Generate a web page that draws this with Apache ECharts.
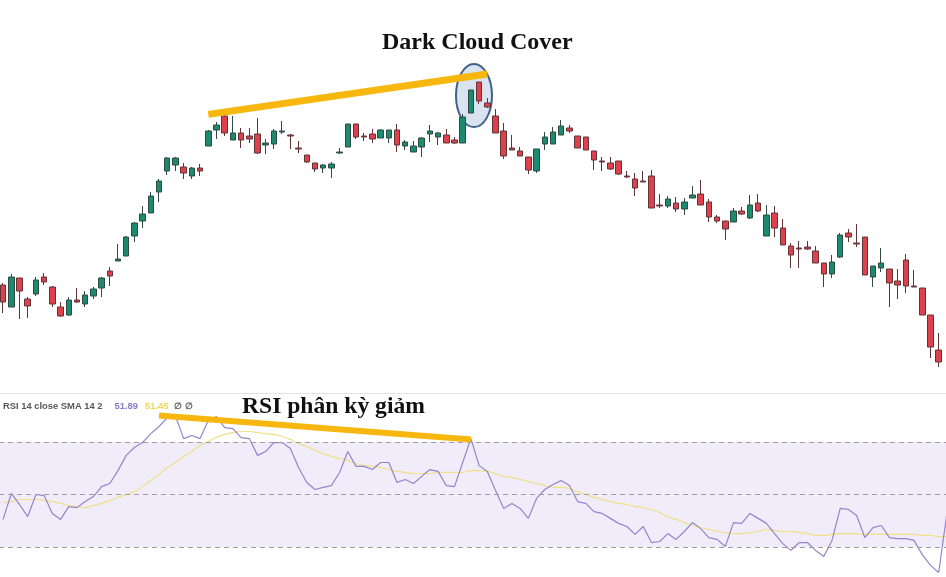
<!DOCTYPE html>
<html>
<head>
<meta charset="utf-8">
<script src="https://cdn.jsdelivr.net/npm/echarts@6/dist/echarts.min.js"></script>
<style>
  html, body { margin: 0; padding: 0; background: #ffffff; }
  #chart { width: 946px; height: 577px; }
</style>
</head>
<body>
<div id="chart"></div>
<script>
// Trading sessions on the shared time axis (the last one has only the indicator tail)
const sessions = Array.from({ length: 116 }, (_, i) => 'Phiên ' + (i + 1));

// Daily OHLC prices
const opens = [
  15.75, 14.65, 16.10, 15.05, 15.30, 16.15, 15.65, 14.65, 14.25, 15.00,
  14.80, 15.20, 15.60, 16.45, 16.95, 17.20, 18.20, 18.95, 19.35, 20.40,
  21.45, 21.75, 21.65, 21.20, 21.60, 22.70, 23.50, 24.20, 23.00, 23.35,
  23.20, 23.30, 22.75, 22.80, 23.40, 23.25, 22.60, 22.25, 21.85, 21.60,
  21.60, 22.35, 22.65, 23.80, 23.20, 23.30, 23.10, 23.10, 23.50, 22.70,
  22.40, 22.65, 23.30, 23.15, 23.25, 23.00, 22.85, 24.35, 25.90, 24.85,
  24.20, 23.45, 22.60, 22.45, 22.15, 21.45, 22.80, 22.80, 23.25, 23.60,
  23.20, 23.15, 22.45, 21.95, 21.85, 21.95, 21.20, 21.05, 20.95, 21.20,
  19.75, 19.70, 19.85, 19.55, 20.10, 20.30, 19.90, 19.15, 18.95, 18.90,
  19.45, 19.10, 19.85, 18.20, 19.35, 18.60, 17.70, 17.60, 17.65, 17.45,
  16.85, 16.30, 17.15, 18.35, 17.85, 18.15, 16.15, 16.60, 16.55, 15.95,
  17.00, 15.70, 15.60, 14.25, 12.50
];
const closes = [
  14.90, 16.15, 15.45, 14.70, 16.00, 15.90, 14.80, 14.20, 15.00, 14.90,
  15.25, 15.55, 16.10, 16.20, 17.05, 18.15, 18.85, 19.30, 20.20, 20.95,
  22.10, 22.10, 21.35, 21.60, 21.45, 23.45, 23.75, 23.35, 23.35, 23.00,
  23.05, 22.35, 22.85, 23.45, 23.45, 23.20, 22.55, 21.90, 21.55, 21.75,
  21.80, 22.40, 23.80, 23.15, 23.15, 23.05, 23.50, 23.50, 22.75, 22.90,
  22.70, 23.10, 23.45, 23.35, 22.85, 22.85, 24.15, 25.50, 24.95, 24.65,
  23.35, 22.20, 22.50, 22.20, 21.50, 22.55, 23.15, 23.40, 23.70, 23.45,
  22.60, 22.50, 22.00, 21.90, 21.55, 21.30, 21.15, 20.60, 20.90, 19.60,
  19.70, 20.05, 19.55, 19.90, 20.25, 19.75, 19.15, 18.95, 18.55, 19.45,
  19.30, 19.75, 19.45, 19.25, 18.60, 17.75, 17.25, 17.55, 17.55, 16.85,
  16.30, 16.90, 18.25, 18.15, 17.80, 16.25, 16.70, 16.85, 15.85, 15.75,
  15.70, 15.65, 14.25, 12.65, 11.90
];
const lows = [
  14.35, 14.65, 14.05, 14.10, 15.20, 15.75, 14.65, 14.15, 14.20, 14.85,
  14.65, 15.05, 15.15, 15.70, 16.95, 17.20, 17.90, 18.60, 19.35, 19.90,
  21.25, 21.45, 21.05, 21.05, 21.20, 22.70, 23.05, 23.20, 23.00, 22.60,
  22.85, 22.30, 22.30, 22.55, 23.30, 22.55, 22.35, 21.85, 21.40, 21.35,
  21.10, 22.30, 22.65, 23.05, 22.95, 22.85, 23.10, 22.85, 22.40, 22.50,
  22.40, 22.15, 22.90, 22.75, 22.85, 22.80, 22.85, 24.35, 24.80, 24.60,
  23.35, 22.05, 22.50, 22.20, 21.30, 21.35, 22.50, 22.80, 23.25, 23.35,
  22.60, 22.50, 21.50, 21.45, 21.50, 21.25, 21.10, 20.20, 20.90, 19.60,
  19.60, 19.60, 19.40, 19.25, 20.10, 19.75, 18.90, 18.85, 18.00, 18.90,
  19.25, 19.05, 19.40, 18.20, 18.15, 17.75, 16.60, 16.60, 17.50, 16.85,
  15.65, 16.10, 17.10, 17.90, 17.65, 16.25, 15.65, 16.40, 14.65, 15.05,
  15.35, 15.65, 14.25, 12.10, 11.65
];
const highs = [
  15.85, 16.30, 16.10, 15.15, 16.15, 16.35, 15.70, 14.90, 15.15, 15.60,
  15.45, 15.65, 16.15, 16.65, 17.80, 18.20, 18.90, 19.70, 20.40, 21.05,
  22.15, 22.15, 21.85, 21.65, 21.80, 23.50, 23.90, 24.30, 24.20, 23.60,
  23.60, 24.10, 23.05, 23.55, 23.95, 23.30, 22.95, 22.25, 21.85, 21.80,
  21.90, 22.60, 23.80, 23.80, 23.35, 23.55, 23.55, 23.50, 23.80, 23.00,
  22.95, 23.15, 23.75, 23.40, 23.55, 23.15, 24.30, 25.50, 25.90, 25.10,
  24.55, 23.85, 23.25, 22.65, 22.15, 22.55, 23.40, 23.65, 24.00, 23.75,
  23.20, 23.15, 22.45, 22.15, 22.15, 21.95, 21.45, 21.35, 21.45, 21.50,
  20.30, 20.20, 20.15, 20.10, 20.70, 21.00, 20.05, 19.25, 18.95, 19.60,
  19.65, 20.25, 20.30, 19.75, 19.70, 19.05, 17.85, 17.95, 17.95, 17.70,
  16.85, 17.25, 18.35, 18.55, 18.80, 18.15, 16.70, 17.60, 16.55, 16.55,
  17.30, 16.50, 15.60, 14.25, 13.35
];

// RSI(14, close) and its 14-period SMA
const rsi = [
  40.5, 50.4, 46.2, 41.6, 50.0, 49.6, 42.8, 40.5, 45.4, 45.0,
  47.3, 49.2, 53.0, 54.2, 59.1, 64.9, 67.9, 69.8, 73.2, 75.9,
  79.3, 80.0, 71.3, 72.5, 71.3, 78.2, 79.7, 75.5, 75.1, 71.7,
  71.3, 64.9, 66.4, 69.8, 69.8, 67.5, 60.3, 54.6, 51.9, 52.7,
  53.4, 58.4, 66.4, 60.7, 60.7, 59.5, 62.2, 62.2, 54.6, 55.7,
  54.2, 56.9, 59.5, 58.8, 53.4, 53.0, 62.2, 71.3, 61.0, 58.8,
  51.5, 44.7, 46.6, 44.7, 40.9, 48.5, 51.9, 53.8, 55.3, 53.4,
  47.3, 46.6, 43.5, 42.8, 40.9, 39.0, 37.8, 34.8, 37.8, 31.7,
  32.1, 35.1, 32.9, 35.9, 39.3, 37.0, 33.6, 32.9, 30.2, 39.3,
  39.0, 42.8, 40.9, 39.0, 35.1, 31.3, 28.7, 31.7, 31.7, 28.7,
  26.4, 32.5, 44.7, 44.3, 42.0, 33.6, 37.4, 38.2, 33.6, 33.2,
  33.2, 32.5, 27.1, 23.0, 20.3, 42.8
];
const rsiSma = [
  47.0, 47.3, 48.1, 48.1, 48.1, 47.7, 47.3, 46.6, 45.8, 45.4,
  45.0, 45.8, 46.6, 47.7, 48.9, 50.0, 51.1, 53.0, 55.3, 57.6,
  60.3, 62.2, 64.5, 66.4, 68.7, 70.2, 71.7, 72.9, 73.6, 74.0,
  74.0, 73.6, 73.2, 72.9, 72.1, 71.0, 69.4, 68.3, 66.8, 65.6,
  64.5, 63.7, 63.0, 61.8, 61.0, 60.7, 60.3, 59.5, 58.8, 58.4,
  58.0, 58.0, 58.0, 58.4, 58.4, 58.4, 58.4, 59.1, 59.1, 58.8,
  58.0, 56.9, 56.5, 55.7, 55.0, 54.2, 53.4, 52.7, 52.7, 52.3,
  51.1, 50.0, 48.9, 48.1, 47.3, 46.6, 46.2, 45.4, 45.0, 44.3,
  43.1, 41.6, 40.5, 39.3, 38.2, 37.4, 36.7, 35.9, 35.5, 35.1,
  35.1, 35.5, 35.9, 36.7, 36.3, 35.9, 35.9, 35.5, 35.1, 34.4,
  34.4, 34.8, 35.1, 35.1, 35.1, 34.8, 34.8, 34.8, 34.8, 34.8,
  34.8, 34.8, 34.4, 34.4, 34.0, 34.0
];

// RSI band levels
const rsiLevels = [70, 50, 30];

// Trend lines: rising price highs vs falling RSI highs
const priceTrend = [[25, 24.28], [59, 26.30]];
const rsiTrend = [[19, 80.1], [57, 70.95]];

const candles = opens.map((o, i) => [o, closes[i], lows[i], highs[i]]);

const chart = echarts.init(document.getElementById('chart'), null, { renderer: 'canvas' });

const ORANGE = '#f8b70f';
const LEGEND_FONT = { fontFamily: 'Liberation Sans', fontSize: 9.4 };

const option = {
  animation: false,
  backgroundColor: '#ffffff',
  title: [
    {
      text: 'Dark Cloud Cover',
      left: 382, top: 31, padding: 0,
      textStyle: { fontFamily: 'Liberation Serif', fontWeight: 'bold', fontSize: 24, color: '#111111' }
    },
    {
      text: 'RSI phân kỳ giảm',
      left: 242, top: 395, padding: 0,
      textStyle: { fontFamily: 'Liberation Serif', fontWeight: 'bold', fontSize: 23.6, color: '#111111' }
    },
    {
      text: '{a|RSI 14 close SMA 14 2}{b|51.89}{c|51.45}{d|∅ ∅}',
      left: 3, top: 402, padding: 0,
      textStyle: {
        ...LEGEND_FONT,
        rich: {
          a: { ...LEGEND_FONT, color: '#585858' },
          b: { ...LEGEND_FONT, color: '#8a7bcc', padding: [0, 0, 0, 12] },
          c: { ...LEGEND_FONT, color: '#f0d452', padding: [0, 0, 0, 7] },
          d: { ...LEGEND_FONT, color: '#5a5a5a', padding: [0, 0, 0, 6] }
        }
      }
    }
  ],
  grid: [
    { left: -1, top: 0, width: 952, height: 393, outerBoundsMode: 'none', containLabel: false },
    { left: -1, top: 393, width: 952, height: 184, outerBoundsMode: 'none', containLabel: false }
  ],
  xAxis: [
    {
      type: 'category', gridIndex: 0, data: sessions, boundaryGap: true,
      axisLine: { show: true, onZero: false, lineStyle: { color: '#e3e3e3', width: 1 } },
      axisTick: { show: false }, axisLabel: { show: false }, splitLine: { show: false }
    },
    {
      type: 'category', gridIndex: 1, data: sessions, boundaryGap: true,
      axisLine: { show: false }, axisTick: { show: false }, axisLabel: { show: false }, splitLine: { show: false }
    }
  ],
  yAxis: [
    { type: 'value', gridIndex: 0, min: 10.35, max: 30, show: false, splitLine: { show: false } },
    { type: 'value', gridIndex: 1, min: 18.571, max: 88.667, show: false, splitLine: { show: false } }
  ],
  series: [
    {
      name: 'Giá',
      type: 'candlestick',
      xAxisIndex: 0, yAxisIndex: 0,
      data: candles,
      barWidth: 6,
      z: 3,
      itemStyle: {
        color: '#1b8a6f',
        color0: '#df404e',
        borderColor: '#314a43',
        borderColor0: '#5e3437',
        borderWidth: 1
      },
      markLine: {
        silent: true,
        symbol: ['none', 'none'],
        label: { show: false },
        lineStyle: { color: ORANGE, width: 7, type: 'solid', cap: 'butt' },
        data: [[{ coord: priceTrend[0] }, { coord: priceTrend[1] }]]
      }
    },
    {
      name: 'SMA',
      type: 'line',
      xAxisIndex: 1, yAxisIndex: 1,
      data: rsiSma,
      showSymbol: false,
      smooth: 0.3,
      z: 2,
      lineStyle: { color: '#f2df8a', width: 1.2 },
      markArea: {
        silent: true,
        itemStyle: { color: '#f0ecf9' },
        data: [[{ yAxis: rsiLevels[2] }, { yAxis: rsiLevels[0] }]]
      },
      markLine: {
        silent: true,
        symbol: ['none', 'none'],
        label: { show: false },
        lineStyle: { color: '#9d9da6', width: 1, type: [5, 4] },
        data: rsiLevels.map(v => ({ yAxis: v }))
      }
    },
    {
      name: 'RSI',
      type: 'line',
      xAxisIndex: 1, yAxisIndex: 1,
      data: rsi,
      showSymbol: false,
      z: 3,
      lineStyle: { color: '#9385cb', width: 1.2 },
      markLine: {
        silent: true,
        symbol: ['none', 'none'],
        label: { show: false },
        lineStyle: { color: ORANGE, width: 6, type: 'solid', cap: 'butt' },
        data: [[{ coord: rsiTrend[0] }, { coord: rsiTrend[1] }]]
      }
    }
  ]
};

chart.setOption(option);

// Highlight ellipse around the Dark Cloud Cover pair (sessions 58–59)
const pA = chart.convertToPixel({ gridIndex: 0 }, [57, 25.22]);
const pB = chart.convertToPixel({ gridIndex: 0 }, [58, 25.22]);
chart.setOption({
  graphic: [
    {
      type: 'ellipse',
      z: 1,
      silent: true,
      shape: { cx: (pA[0] + pB[0]) / 2 - 1, cy: pA[1], rx: 18, ry: 31.5 },
      style: { fill: '#dae4f1', stroke: '#43608a', lineWidth: 2 }
    }
  ]
});
</script>
</body>
</html>
